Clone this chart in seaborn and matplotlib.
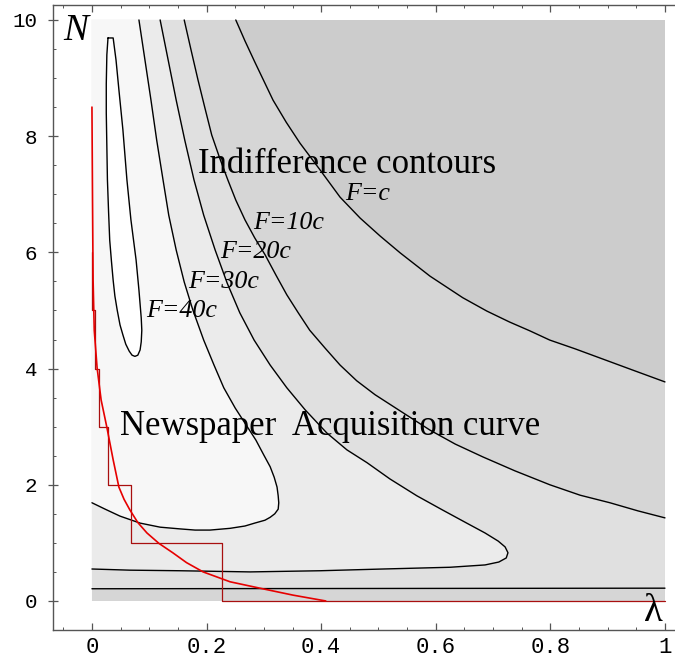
import numpy as np
import matplotlib
matplotlib.use("Agg")
import matplotlib.pyplot as plt
import seaborn as sns

# contour F = c
c_lam = [0.251, 0.267, 0.284, 0.300, 0.316, 0.339, 0.363, 0.398, 0.433, 0.468, 0.503, 0.538, 0.590,
         0.647, 0.689, 0.729, 0.764, 0.799, 0.843, 0.887, 0.942, 1.0]
c_n = [10.0, 9.64, 9.28, 8.95, 8.62, 8.24, 7.88, 7.42, 6.95, 6.59, 6.28, 5.99, 5.59,
       5.22, 4.99, 4.80, 4.65, 4.49, 4.34, 4.18, 3.98, 3.77]

# contour F = 10c (upper branch + bottom line)
ten_lam = [0.161, 0.173, 0.185, 0.197, 0.209, 0.223, 0.237, 0.251, 0.267, 0.284, 0.302, 0.321, 0.340,
           0.360, 0.380, 0.407, 0.433, 0.462, 0.494, 0.538, 0.590, 0.634, 0.682, 0.738, 0.799, 0.852,
           0.904, 0.953, 1.0]
ten_n = [10.0, 9.48, 8.97, 8.49, 8.02, 7.62, 7.25, 6.90, 6.56, 6.25, 5.96, 5.61, 5.27,
         4.96, 4.66, 4.35, 4.06, 3.79, 3.55, 3.27, 2.94, 2.70, 2.48, 2.24, 2.00, 1.82,
         1.69, 1.55, 1.43]
ten_low_lam = [0.0, 0.5, 1.0]
ten_low_n = [0.21, 0.215, 0.22]

# contour F = 20c
tw_lam = [0.119, 0.133, 0.147, 0.162, 0.178, 0.195, 0.215, 0.236, 0.258, 0.283, 0.311, 0.340, 0.372,
          0.410, 0.445, 0.480, 0.520, 0.567, 0.611, 0.654, 0.686, 0.709, 0.721, 0.726, 0.723, 0.710,
          0.686, 0.625, 0.508, 0.398, 0.276, 0.154, 0.066, 0.0]
tw_n = [10.0, 9.31, 8.62, 7.93, 7.25, 6.64, 6.04, 5.47, 4.96, 4.49, 4.06, 3.67, 3.29,
        2.89, 2.60, 2.38, 2.10, 1.81, 1.57, 1.34, 1.17, 1.03, 0.93, 0.83, 0.74, 0.67,
        0.62, 0.58, 0.55, 0.52, 0.50, 0.52, 0.53, 0.55]

# contour F = 30c
th_lam = [0.082, 0.0925, 0.103, 0.113, 0.124, 0.134, 0.147, 0.161, 0.176, 0.195, 0.213, 0.230, 0.250,
          0.269, 0.286, 0.300, 0.311, 0.318, 0.323, 0.325, 0.326, 0.325, 0.319, 0.311, 0.302, 0.284,
          0.267, 0.241, 0.206, 0.180, 0.154, 0.119, 0.084, 0.049, 0.023, 0.0]
th_n = [10.0, 9.31, 8.62, 7.93, 7.25, 6.64, 6.04, 5.49, 5.01, 4.49, 4.06, 3.67, 3.32,
        3.03, 2.77, 2.51, 2.31, 2.13, 1.96, 1.81, 1.69, 1.58, 1.50, 1.44, 1.39, 1.34,
        1.29, 1.25, 1.22, 1.22, 1.24, 1.27, 1.34, 1.46, 1.58, 1.69]

# contour F = 40c (closed loop)
fo_lam = [0.028, 0.026, 0.025, 0.025, 0.027, 0.029, 0.031, 0.034, 0.037, 0.040, 0.044, 0.049, 0.054,
          0.059, 0.065, 0.070, 0.075, 0.080, 0.084, 0.086, 0.087, 0.086, 0.082, 0.077, 0.068, 0.061,
          0.054, 0.047, 0.042, 0.037]
fo_n = [9.69, 9.40, 8.90, 8.40, 7.25, 6.70, 6.21, 5.85, 5.52, 5.25, 5.01, 4.75, 4.58,
        4.42, 4.30, 4.23, 4.21, 4.23, 4.32, 4.46, 4.66, 4.87, 5.35, 5.87, 6.56, 7.25,
        8.11, 8.80, 9.31, 9.69]

# newspaper acquisition curve
acq_lam = [0.0, 0.001, 0.002, 0.004, 0.009, 0.016, 0.026, 0.037, 0.047, 0.056, 0.066, 0.080, 0.096,
           0.117, 0.141, 0.165, 0.194, 0.241, 0.293, 0.351, 0.408]
acq_n = [8.50, 6.90, 5.52, 4.66, 4.01, 3.46, 2.99, 2.43, 1.96, 1.75, 1.57, 1.35, 1.17,
         0.99, 0.83, 0.66, 0.50, 0.33, 0.22, 0.10, 0.0]

# integer staircase
stair_n = [6, 5, 4, 3, 2, 1, 0]
stair_lam = [0.0, 0.005, 0.012, 0.028, 0.068, 0.227]

labels = ["F=c", "F=10c", "F=20c", "F=30c", "F=40c"]

sns.set_style("ticks")
plt.rcParams['font.family'] = ['DejaVu Sans']
plt.rcParams['text.color'] = 'black'
plt.rcParams['xtick.labelcolor'] = 'black'
plt.rcParams['ytick.labelcolor'] = 'black'

fig = plt.figure(figsize=(6.75, 6.71), dpi=100)
ax = fig.add_axes([0.0785, 0.0604, 0.9215, 0.9322])

grays = ['#cccccc', '#d6d6d6', '#e0e0e0', '#ebebeb', '#f7f7f7', '#ffffff']
ax.fill([0, 1, 1, 0], [0, 0, 10, 10], color=grays[0], lw=0)
ax.fill([0, 0] + c_lam + [1], [0, 10] + c_n + [0], color=grays[1], lw=0)
ax.fill([0, 0] + ten_lam + ten_low_lam[::-1], [ten_low_n[0], 10] + ten_n + ten_low_n[::-1],
        color=grays[2], lw=0)
ax.fill([0] + tw_lam, [10] + tw_n, color=grays[3], lw=0)
ax.fill([0] + th_lam, [10] + th_n, color=grays[4], lw=0)
ax.fill(fo_lam, fo_n, color=grays[5], lw=0)

lw = 1.0
for xs, ys in [(c_lam, c_n), (ten_lam, ten_n), (ten_low_lam, ten_low_n),
               (tw_lam, tw_n), (th_lam, th_n), (fo_lam + fo_lam[:1], fo_n + fo_n[:1])]:
    sns.lineplot(x=xs, y=ys, sort=False, estimator=None, color='black', lw=lw, ax=ax)

# staircase
sx, sy = [], []
for i, lam in enumerate(stair_lam):
    sx += [lam, lam]
    sy += [stair_n[i], stair_n[i + 1]]
sx.append(1.0)
sy.append(0)
sns.lineplot(x=sx, y=sy, sort=False, estimator=None, color='#a80f0f', lw=0.9, ax=ax)
sns.lineplot(x=acq_lam, y=acq_n, sort=False, estimator=None, color='#e60000', lw=1.2, ax=ax)

serif = 'Liberation Serif'
ax.text(-0.028, 9.81, 'N', family=serif, style='italic', fontsize=27, ha='center', va='center')
ax.text(0.979, -0.19, 'λ', family=serif, fontsize=28, ha='center', va='center')
ax.text(0.185, 7.37, 'Indifference contours', family=serif, fontsize=25, va='baseline')
ax.text(0.049, 2.86, 'Newspaper  Acquisition curve', family=serif, fontsize=25, va='baseline')
lab_pos = [(0.442, 6.90), (0.281, 6.40), (0.223, 5.90), (0.168, 5.39), (0.094, 4.89)]
for t, (x, y) in zip(labels, lab_pos):
    ax.text(x, y, t, family=serif, style='italic', fontsize=18.7, va='baseline')

ax.set_xlim(-0.068, 1.0175)
ax.set_ylim(-0.508, 10.258)
ax.set_xticks([0, 0.2, 0.4, 0.6, 0.8, 1.0])
ax.set_xticklabels(['0', '0.2', '0.4', '0.6', '0.8', '1'])
ax.set_xticks(np.arange(-0.05, 1.01, 0.05), minor=True)
ax.set_yticks([0, 2, 4, 6, 8, 10])
ax.set_yticklabels(['0', '2', '4', '6', '8', '10'])
ax.set_yticks(np.arange(-0.5, 10.01, 0.5), minor=True)
ax.set_xlabel('')
ax.set_ylabel('')

for side in ['left', 'bottom', 'top']:
    ax.spines[side].set_visible(True)
    ax.spines[side].set_color('#555555')
    ax.spines[side].set_linewidth(1.0)
ax.spines['right'].set_visible(False)
ax.tick_params(which='both', top=True, right=False, direction='in', color='#555555')
ax.tick_params(which='major', length=5, width=0.9)
ax.tick_params(which='minor', length=2.5, width=0.7)
ax.tick_params(axis='y', which='major', direction='inout', length=7, pad=8, labelsize=15)
ax.tick_params(axis='x', which='major', pad=5, labelsize=16)
for lab in ax.get_xticklabels() + ax.get_yticklabels():
    lab.set_family('Liberation Mono')

fig.savefig('out.png', dpi=100)
